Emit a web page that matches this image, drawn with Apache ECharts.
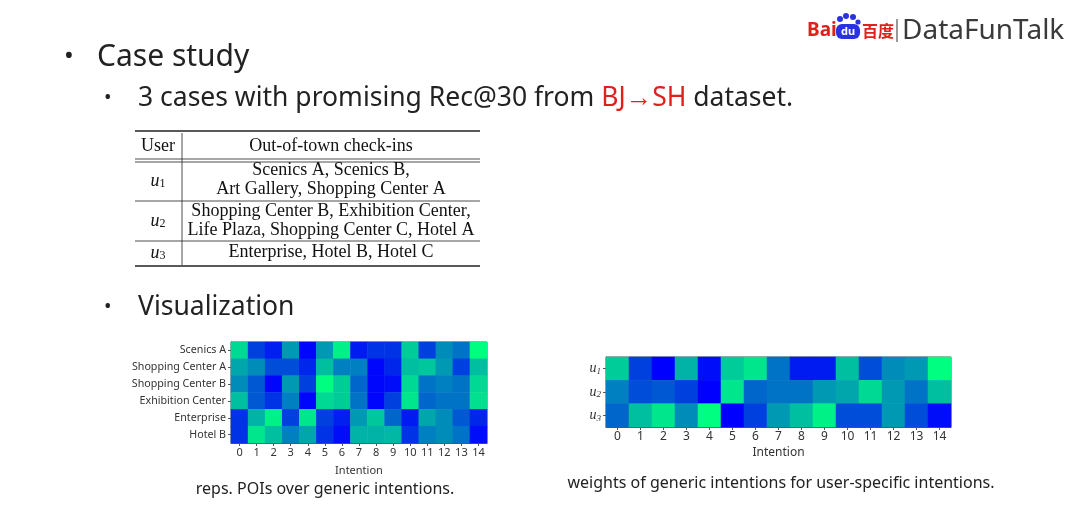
<!DOCTYPE html>
<html><head><meta charset="utf-8">
<script src="https://cdn.jsdelivr.net/npm/echarts@6/dist/echarts.min.js"></script>
<style>html,body{margin:0;padding:0;background:#fff}#c{width:1080px;height:514px}</style>
</head><body><div id="c"></div>
<script>
// ---- data ----
const intentions = ['0','1','2','3','4','5','6','7','8','9','10','11','12','13','14'];
const poiRows = ['Scenics A','Shopping Center A','Shopping Center B','Exhibition Center','Enterprise','Hotel B'];
const repsScenicsA      = [0.85,0.25,0.12,0.60,0.02,0.60,0.95,0.10,0.20,0.20,0.80,0.25,0.55,0.45,1.00];
const repsShoppingA     = [0.65,0.55,0.30,0.30,0.15,0.75,0.50,0.50,0.02,0.15,0.75,0.78,0.60,0.25,0.75];
const repsShoppingB     = [0.55,0.35,0.02,0.60,0.25,1.00,0.80,0.40,0.02,0.05,0.85,0.45,0.50,0.45,0.85];
const repsExhibition    = [0.75,0.35,0.20,0.50,0.02,0.85,0.80,0.45,0.02,0.25,0.90,0.40,0.45,0.45,0.88];
const repsEnterprise    = [0.20,0.70,0.95,0.25,0.90,0.25,0.12,0.60,0.78,0.40,0.10,0.65,0.55,0.35,0.15];
const repsHotelB        = [0.20,0.90,0.75,0.50,0.65,0.20,0.05,0.70,0.70,0.72,0.20,0.50,0.55,0.45,0.05];
const userRows = ['1','2','3'];
const weightsU1 = [0.80,0.25,0.00,0.70,0.05,0.80,0.90,0.45,0.10,0.10,0.75,0.30,0.55,0.60,1.00];
const weightsU2 = [0.50,0.30,0.35,0.25,0.00,0.90,0.40,0.45,0.45,0.60,0.65,0.85,0.60,0.45,0.75];
const weightsU3 = [0.40,0.75,0.90,0.55,1.00,0.00,0.25,0.60,0.75,0.95,0.30,0.30,0.60,0.30,0.05];

const repsMatrix = [repsScenicsA, repsShoppingA, repsShoppingB, repsExhibition, repsEnterprise, repsHotelB];
const weightsMatrix = [weightsU1, weightsU2, weightsU3];
function toCells(m){ const out=[]; m.forEach((row,r)=>row.forEach((v,c)=>out.push([c,r,v]))); return out; }

const chart = echarts.init(document.getElementById('c'));
const sans = '"Noto Sans", "Open Sans", sans-serif';
const serif = '"Liberation Serif", "DejaVu Serif", serif';
const cmap = ['#0000ff', '#00ff80'];

function axisX(idx, fs, gap){
  return {type:'category', gridIndex:idx, data:intentions, name:'Intention', nameLocation:'middle', nameGap:gap,
    nameTextStyle:{fontSize:fs, color:'#333', fontFamily:sans},
    axisLine:{show:true, lineStyle:{color:'#555'}}, axisTick:{show:true, alignWithLabel:true, length:3, lineStyle:{color:'#555'}},
    axisLabel:{fontSize:fs, color:'#333', margin:4, fontFamily:sans, interval:0}, splitLine:{show:false}};
}
function axisY(idx, data, fs, isUser){
  const label = {fontSize:fs, color:'#333', margin:5, fontFamily:sans};
  if(isUser){
    label.formatter = v => '{u|u}{s|' + v + '}';
    label.rich = {u:{fontFamily:serif, fontStyle:'italic', fontSize:14, color:'#333'},
                  s:{fontFamily:serif, fontStyle:'italic', fontSize:9, color:'#333', padding:[6,0,0,0]}};
  }
  return {type:'category', gridIndex:idx, data:data, inverse:true,
    axisLine:{show:true, lineStyle:{color:'#555'}}, axisTick:{show:true, alignWithLabel:true, length:3, lineStyle:{color:'#555'}},
    axisLabel:label, splitLine:{show:false}};
}

// table geometry
const tL=135, tR=480, tV=182;
const tLines = [
  {y:131, w:1.6}, {y:159, w:0.8}, {y:162, w:0.8}, {y:201, w:0.8}, {y:241, w:0.8}, {y:266, w:1.6}
];
const graphics = [];
tLines.forEach(l=>graphics.push({type:'line', shape:{x1:tL,y1:l.y,x2:tR,y2:l.y}, style:{stroke:'#222', lineWidth:l.w}}));
graphics.push({type:'line', shape:{x1:tV,y1:133,x2:tV,y2:265}, style:{stroke:'#222', lineWidth:0.8}});
function tt(x,y,text){ return {type:'text', x:x, y:y, style:{text:text, fill:'#111', font:'18px '+serif, align:'center', verticalAlign:'middle'}}; }
graphics.push(tt(158,146,'User'));
graphics.push(tt(331,146,'Out-of-town check-ins'));
graphics.push(tt(331,170,'Scenics A, Scenics B,'));
graphics.push(tt(331,189,'Art Gallery, Shopping Center A'));
graphics.push(tt(331,211,'Shopping Center B, Exhibition Center,'));
graphics.push(tt(331,230,'Life Plaza, Shopping Center C, Hotel A'));
graphics.push(tt(331,252,'Enterprise, Hotel B, Hotel C'));
[181,221,253].forEach((ys,i)=>{
  graphics.push({type:'text', x:158, y:ys, style:{text:'{u|u}{s|'+(i+1)+'}', align:'center', verticalAlign:'middle',
    rich:{u:{font:'italic 18px '+serif, fill:'#111'}, s:{font:'12px '+serif, fill:'#111', padding:[6,0,0,0]}}}});
});

// slide text
graphics.push({type:'text', x:64, y:57, style:{text:'•', font:'26px '+sans, fill:'#222', verticalAlign:'middle'}});
graphics.push({type:'text', x:97, y:57, style:{text:'Case study', font:'30px '+sans, fill:'#222', verticalAlign:'middle'}});
graphics.push({type:'text', x:104, y:98, style:{text:'•', font:'20px '+sans, fill:'#222', verticalAlign:'middle'}});
graphics.push({type:'text', x:138, y:98, style:{text:'{a|3 cases with promising Rec@30 from }{r|BJ→SH}{a| dataset.}', verticalAlign:'middle',
  rich:{a:{font:'26.5px '+sans, fill:'#222'}, r:{font:'26.5px '+sans, fill:'#e0201c'}}}});
graphics.push({type:'text', x:104, y:307, style:{text:'•', font:'20px '+sans, fill:'#222', verticalAlign:'middle'}});
graphics.push({type:'text', x:138, y:307, style:{text:'Visualization', font:'26.5px '+sans, fill:'#222', verticalAlign:'middle'}});
graphics.push({type:'text', x:325, y:489, style:{text:'reps. POIs over generic intentions.', font:'16px '+sans, fill:'#222', align:'center', verticalAlign:'middle'}});
graphics.push({type:'text', x:781, y:483, style:{text:'weights of generic intentions for user-specific intentions.', font:'16px '+sans, fill:'#222', align:'center', verticalAlign:'middle'}});

// logo
graphics.push({type:'text', x:807, y:31, style:{text:'Bai', font:'bold 19px '+sans, fill:'#e0201c', verticalAlign:'middle'}});
const paw = '#2932e1';
[[840,19,3],[846,16,3],[853,17,3],[858,22,2.6]].forEach(p=>graphics.push({type:'circle', shape:{cx:p[0],cy:p[1],r:p[2]}, style:{fill:paw}}));
graphics.push({type:'rect', shape:{x:836,y:24,width:24,height:15,r:6}, style:{fill:paw}});
graphics.push({type:'text', x:848, y:32, style:{text:'du', font:'bold 11px '+sans, fill:'#fff', align:'center', verticalAlign:'middle'}});
graphics.push({type:'text', x:862, y:31, style:{text:'百度', font:'bold 16px "Noto Sans CJK SC", sans-serif', fill:'#e0201c', verticalAlign:'middle'}});
graphics.push({type:'line', shape:{x1:897,y1:19,x2:897,y2:42}, style:{stroke:'#555', lineWidth:1.2}});
graphics.push({type:'text', x:902, y:31, style:{text:'DataFunTalk', font:'28px '+sans, fill:'#3a3a3a', verticalAlign:'middle'}});

chart.setOption({
  backgroundColor:'#fff',
  animation:false,
  grid:[
    {left:231, top:342, width:256, height:101, show:true, borderColor:'#555', borderWidth:1},
    {left:606, top:357, width:345, height:70, show:true, borderColor:'#555', borderWidth:1}
  ],
  xAxis:[axisX(0,11,22), axisX(1,12,20)],
  yAxis:[axisY(0,poiRows,10.7,false), axisY(1,userRows,12,true)],
  visualMap:[
    {show:false, min:0, max:1, seriesIndex:0, inRange:{color:cmap}},
    {show:false, min:0, max:1, seriesIndex:1, inRange:{color:cmap}}
  ],
  series:[
    {type:'heatmap', xAxisIndex:0, yAxisIndex:0, data:toCells(repsMatrix), emphasis:{disabled:true}},
    {type:'heatmap', xAxisIndex:1, yAxisIndex:1, data:toCells(weightsMatrix), emphasis:{disabled:true}}
  ],
  graphic:graphics
});
</script></body></html>
